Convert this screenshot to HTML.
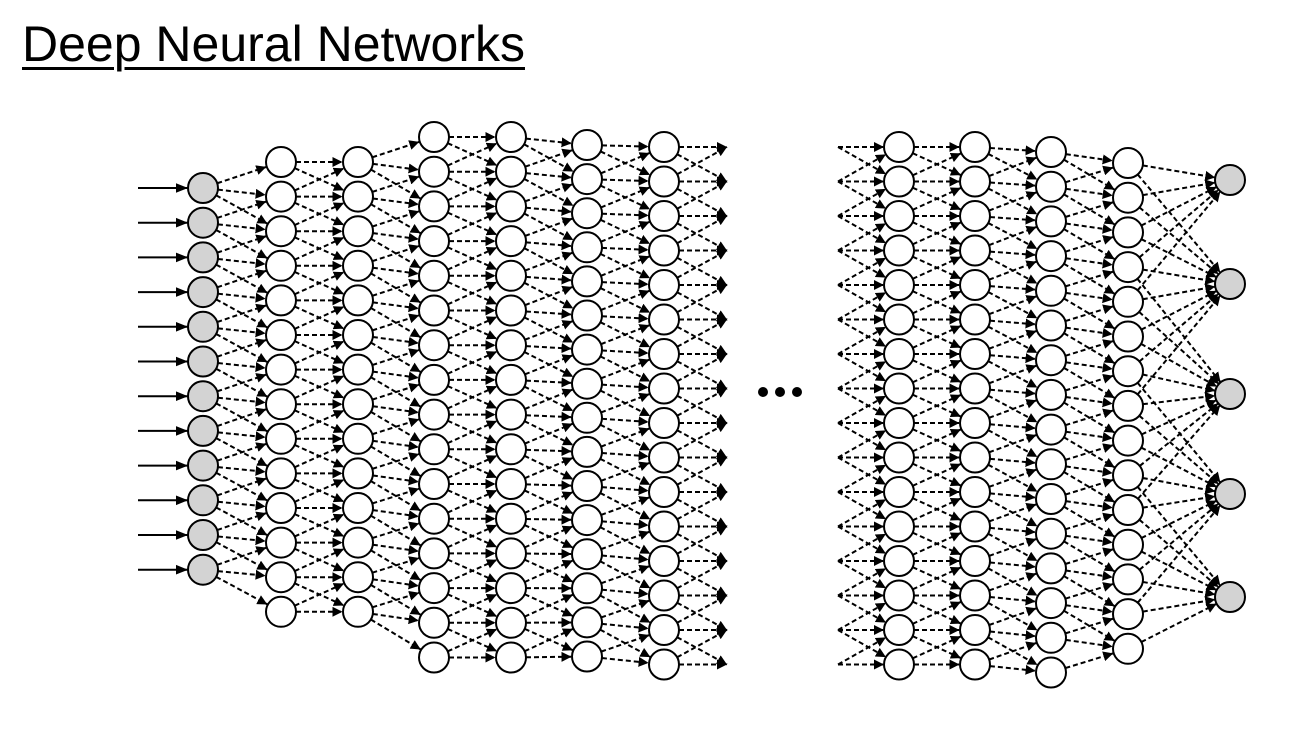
<!DOCTYPE html>
<html><head><meta charset="utf-8"><style>
html,body{margin:0;padding:0;background:#fff;width:1304px;height:730px;overflow:hidden}
#title{position:absolute;left:22px;top:14px;font:50px "Liberation Sans",Arial,sans-serif;text-decoration:underline;text-decoration-thickness:3px;text-underline-offset:6px;color:#000;margin:0;font-weight:normal;line-height:60px}
svg{position:absolute;left:0;top:0}
</style></head><body>
<h1 id="title">Deep Neural Networks</h1>
<svg id="net" width="1304" height="730">
<defs><marker id="ah" viewBox="0 0 10 10" refX="10" refY="5" markerWidth="6" markerHeight="6" orient="auto"><path d="M0,1 L10,5 L0,9 z" fill="#000"/></marker>
<marker id="ah2" viewBox="0 0 10 10" refX="10" refY="5" markerWidth="5" markerHeight="5" orient="auto"><path d="M0,0 L10,5 L0,10 z" fill="#000"/></marker></defs>
<g id="edges"></g><g id="nodes"></g>
<g><circle cx="763" cy="392" r="5"/><circle cx="780" cy="392" r="5"/><circle cx="797" cy="392" r="5"/></g>
</svg>
<script>
const layerX     = [203, 281, 358, 434, 511, 587, 664, 899, 975, 1051, 1128];
const layerTop   = [188, 162, 162, 137, 137, 145, 147, 147, 147, 152, 163];
const layerCount = [12, 14, 14, 16, 16, 16, 16, 16, 16, 16, 15];
const layerStep  = [34.7, 34.6, 34.6, 34.7, 34.7, 34.1, 34.5, 34.5, 34.5, 34.7, 34.7];
const outputY    = [180, 284, 394, 494, 597];
const outputX = 1230;
const R = 15;
const NS='http://www.w3.org/2000/svg';
const E=document.getElementById('edges'), N=document.getElementById('nodes');
function ys(i){const a=[];for(let k=0;k<layerCount[i];k++)a.push(layerTop[i]+k*layerStep[i]);return a;}
function line(x1,y1,x2,y2,dashed,name,marker){
  const l=document.createElementNS(NS,'line');
  l.setAttribute('x1',x1);l.setAttribute('y1',y1);l.setAttribute('x2',x2);l.setAttribute('y2',y2);
  l.setAttribute('stroke','#000');l.setAttribute('stroke-width',2);
  if(dashed)l.setAttribute('stroke-dasharray','5 3');
  l.setAttribute('marker-end','url(#'+(marker||'ah2')+')');
  
  
  E.appendChild(l);
}
function connect(xa,A,xb,B,name,sa,sb){
  A.forEach(ya=>B.forEach(yb=>{
    if(Math.abs(yb-ya)<52){
      const dx=xb-xa,dy=yb-ya,d=Math.hypot(dx,dy);
      line(xa+dx/d*sa,ya+dy/d*sa,xb-dx/d*sb,yb-dy/d*sb,true,name);
    }
  }));
}
ys(0).forEach(y=>line(138,y,203-R,y,false,'input-arrow','ah'));
for(let i=0;i<layerX.length-1;i++){
  if(i===6)continue;
  connect(layerX[i],ys(i),layerX[i+1],ys(i+1),'edge-layer-'+(i+1),R,0.5+R);
}
connect(664,ys(6),727,ys(6),'stub-out',R,0);
connect(838,ys(7),899,ys(7),'stub-in',0,R);
const last=ys(10);
last.forEach(ya=>outputY.forEach(yb=>{
  if(Math.abs(yb-ya)<135){
    const xa=1128,xb=outputX,dx=xb-xa,dy=yb-ya,d=Math.hypot(dx,dy);
    line(xa+dx/d*R,ya+dy/d*R,xb-dx/d*R,yb-dy/d*R,true,'edge-output');
  }
}));
function node(x,y,fill,name){
  const c=document.createElementNS(NS,'circle');
  c.setAttribute('cx',x);c.setAttribute('cy',y);c.setAttribute('r',R);
  c.setAttribute('fill',fill);c.setAttribute('stroke','#000');c.setAttribute('stroke-width',2);
  
  
  N.appendChild(c);
}
for(let i=0;i<layerX.length;i++)ys(i).forEach(y=>node(layerX[i],y,i===0?'#d3d3d3':'#fff',i===0?'input-node':'hidden-node'));
outputY.forEach(y=>node(outputX,y,'#d3d3d3','output-node'));
</script>
</body></html>
